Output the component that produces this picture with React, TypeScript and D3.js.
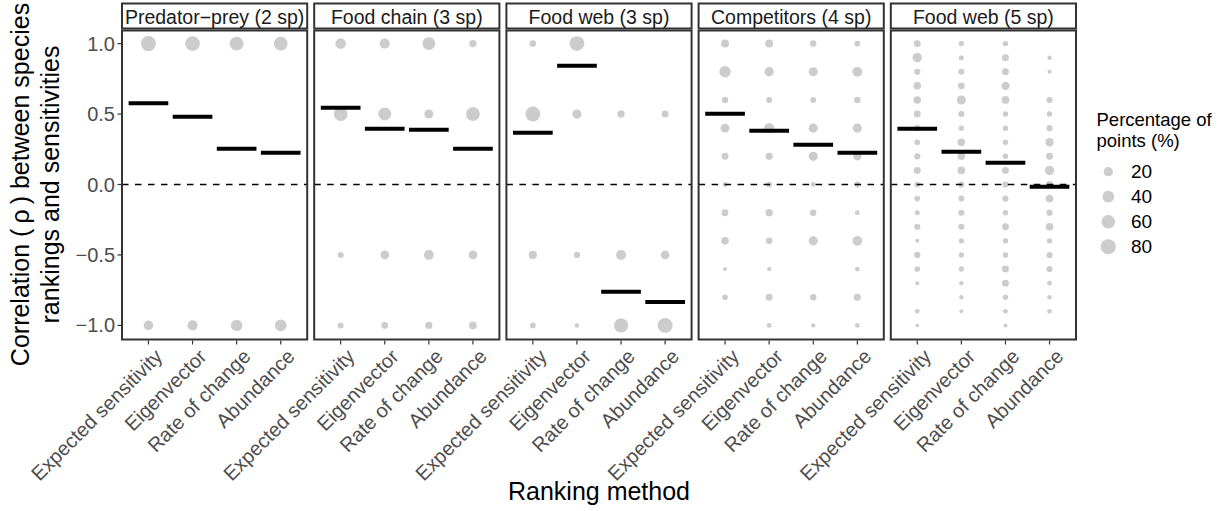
import React from "react";
import * as d3 from "d3";

// ---------- data ----------
const methods = ["Expected sensitivity", "Eigenvector", "Rate of change", "Abundance"];
const panelTitles = [
  "Predator\u2212prey (2 sp)",
  "Food chain (3 sp)",
  "Food web (3 sp)",
  "Competitors (4 sp)",
  "Food web (5 sp)",
];

// possible rank-correlation values per community size
const rhoTwo = [1, -1];
const rhoThree = [1, 0.5, -0.5, -1];
const rhoFour = [1, 0.8, 0.6, 0.4, 0.2, 0, -0.2, -0.4, -0.6, -0.8, -1];
const rhoFive = [1, 0.9, 0.8, 0.7, 0.6, 0.5, 0.4, 0.3, 0.2, 0.1, 0, -0.1, -0.2, -0.3, -0.4, -0.5, -0.6, -0.7, -0.8, -0.9, -1];

// percentage of points at each rho value, one row per ranking method
const pctPredatorPrey = [
  [78, 22],
  [74, 26],
  [63, 37],
  [61, 39],
];
const pctFoodChain3 = [
  [29, 63, 4, 4],
  [25, 52, 17, 6],
  [51, 18, 23, 8],
  [9, 64, 17, 10],
];
const pctFoodWeb3 = [
  [6, 78, 13, 3],
  [75, 19.5, 4.5, 1],
  [0, 9, 25, 66],
  [0, 7, 16, 77],
];
const pctCompetitors4 = [
  [12, 37, 5, 17, 7, 1.3, 7, 10, 0.6, 3, 0],
  [12, 20, 4, 28, 8, 3, 9, 6, 0.7, 7, 1.4],
  [5.4, 18.8, 3.4, 18.8, 18.8, 1.4, 5.4, 18.8, 0, 5.4, 0.7],
  [3.4, 23.4, 5.4, 18.8, 12.8, 3.4, 1.4, 23.4, 1.4, 8, 1.4],
];
const pctFoodWeb5 = [
  [7, 20.4, 4.7, 9.6, 9.6, 7, 4.7, 3, 4.7, 7, 3, 3, 1.7, 4.7, 0.6, 4.7, 3, 0.6, 0, 1.2, 0.5],
  [2.4, 1.8, 4.2, 6.8, 18, 4.2, 2.4, 10, 10, 10, 4.2, 4.2, 4.2, 4.2, 2.4, 2.4, 2.4, 0.9, 0.9, 0.6, 0],
  [2.5, 7, 7, 14, 10.4, 2.5, 2.5, 2.5, 2.5, 7, 4.4, 4.4, 2.5, 7, 2.5, 2.5, 7, 7, 2.5, 1.2, 0.6],
  [0, 0.9, 0.6, 0, 4.4, 2.5, 4.4, 14.3, 7, 19, 7, 10.4, 4.4, 10.4, 2.5, 4.4, 4.4, 1.2, 1.2, 1.2, 0],
];

// mean correlation per method (black bars)
const meanPredatorPrey = [0.576, 0.48, 0.254, 0.226];
const meanFoodChain3 = [0.545, 0.396, 0.389, 0.254];
const meanFoodWeb3 = [0.367, 0.843, -0.762, -0.833];
const meanCompetitors4 = [0.502, 0.382, 0.282, 0.226];
const meanFoodWeb5 = [0.396, 0.233, 0.155, -0.016];

const yTicks = [1, 0.5, 0, -0.5, -1];
const legendBreaks = [20, 40, 60, 80];

const panels = [
  { title: panelTitles[0], rho: rhoTwo, pct: pctPredatorPrey, mean: meanPredatorPrey },
  { title: panelTitles[1], rho: rhoThree, pct: pctFoodChain3, mean: meanFoodChain3 },
  { title: panelTitles[2], rho: rhoThree, pct: pctFoodWeb3, mean: meanFoodWeb3 },
  { title: panelTitles[3], rho: rhoFour, pct: pctCompetitors4, mean: meanCompetitors4 },
  { title: panelTitles[4], rho: rhoFive, pct: pctFoodWeb5, mean: meanFoodWeb5 },
];

// ---------- layout ----------
const W = 1229;
const H = 511;
const FONT = "'Liberation Sans', Arial, Helvetica, sans-serif";
const PANEL_TOP = 29.5;
const PANEL_BOTTOM = 339.5;
const STRIP_TOP = 3.5;
const DOT = "#CCCCCC";
const BORDER = "#333333";
const TICKTEXT = "#4D4D4D";

const facet = d3
  .scaleBand<string>()
  .domain(panelTitles)
  .range([122, 1076])
  .paddingInner(7 / 192.2)
  .paddingOuter(0);

const y = d3.scaleLinear().domain([-1.1, 1.1]).range([PANEL_BOTTOM, PANEL_TOP]);

const xInner = d3
  .scalePoint<string>()
  .domain(methods)
  .range([0, facet.bandwidth()])
  .padding(0.6);

const size = d3.scaleSqrt().domain([0, 84.5]).range([1.8, 7.75]).clamp(true);
const radius = (v: number) => size(Math.max(0, v - 0.5));

export default function App() {
  const pw = facet.bandwidth();
  const step = xInner.step();
  const barW = step * 0.9;

  return (
    <svg
      width={W}
      height={H}
      style={{ position: "absolute", left: 0, top: 0, background: "#fff" }}
      fontFamily={FONT}
    >
      <rect x={0} y={0} width={W} height={H} fill="#fff" />

      {/* panels */}
      {panels.map((p) => {
        const x0 = facet(p.title)!;
        return (
          <g key={p.title} transform={`translate(${x0},0)`}>
            {/* strip */}
            <rect
              x={0}
              y={STRIP_TOP}
              width={pw}
              height={PANEL_TOP - STRIP_TOP - 1}
              fill="#fff"
              stroke={BORDER}
              strokeWidth={2}
            />
            <text
              x={pw / 2}
              y={(STRIP_TOP + PANEL_TOP) / 2}
              textAnchor="middle"
              dominantBaseline="central"
              fontSize={19.5}
              fill="#1A1A1A"
            >
              {p.title}
            </text>

            {/* dots */}
            {methods.map((m, mi) =>
              p.rho.map((r, ri) => {
                const v = p.pct[mi][ri];
                if (!v) return null;
                return (
                  <circle
                    key={`${m}-${ri}`}
                    cx={xInner(m)!}
                    cy={y(r)}
                    r={radius(v)}
                    fill={DOT}
                  />
                );
              })
            )}

            {/* zero line */}
            <line
              x1={0}
              x2={pw}
              y1={y(0)}
              y2={y(0)}
              stroke="#000"
              strokeWidth={1.5}
              strokeDasharray="6.5,6.5"
            />

            {/* mean bars */}
            {methods.map((m, mi) => (
              <line
                key={`mean-${m}`}
                x1={xInner(m)! - barW / 2}
                x2={xInner(m)! + barW / 2}
                y1={y(p.mean[mi])}
                y2={y(p.mean[mi])}
                stroke="#000"
                strokeWidth={4}
              />
            ))}

            {/* panel border */}
            <rect
              x={0}
              y={PANEL_TOP + 1}
              width={pw}
              height={PANEL_BOTTOM - PANEL_TOP - 1}
              fill="none"
              stroke={BORDER}
              strokeWidth={2}
            />

            {/* x ticks */}
            {methods.map((m) => {
              const xx = xInner(m)!;
              return (
                <g key={`xt-${m}`}>
                  <line x1={xx} x2={xx} y1={PANEL_BOTTOM + 1} y2={PANEL_BOTTOM + 5} stroke={BORDER} strokeWidth={1.2} />
                  <text
                    transform={`translate(${xx + 5},${PANEL_BOTTOM + 8}) rotate(-45)`}
                    textAnchor="end"
                    dy="0.72em"
                    fontSize={20}
                    fill={TICKTEXT}
                  >
                    {m}
                  </text>
                </g>
              );
            })}
          </g>
        );
      })}

      {/* y axis */}
      {yTicks.map((t) => (
        <g key={`yt-${t}`}>
          <line x1={117.5} x2={121} y1={y(t)} y2={y(t)} stroke={BORDER} strokeWidth={1.2} />
          <text
            x={115}
            y={y(t)}
            textAnchor="end"
            dominantBaseline="central"
            fontSize={20}
            fill={TICKTEXT}
          >
            {d3.format(".1f")(t).replace("-", "\u2212")}
          </text>
        </g>
      ))}

      {/* y title */}
      <g transform={`translate(0,${(PANEL_TOP + PANEL_BOTTOM) / 2}) rotate(-90)`}>
        <text x={0} y={29} textAnchor="middle" fontSize={25} fill="#000">
          {"Correlation (\u2009\u03C1\u2009) between species"}
        </text>
        <text x={0} y={59} textAnchor="middle" fontSize={25} fill="#000">
          rankings and sensitivities
        </text>
      </g>

      {/* x title */}
      <text x={(122 + 1076) / 2} y={500} textAnchor="middle" fontSize={25} fill="#000">
        Ranking method
      </text>

      {/* legend */}
      <g>
        <text x={1096.5} y={126} fontSize={18.5} fill="#000">
          Percentage of
        </text>
        <text x={1096.5} y={147} fontSize={18.5} fill="#000">
          points (%)
        </text>
        {legendBreaks.map((b, i) => {
          const cy = 171.7 + i * 25;
          return (
            <g key={`lg-${b}`}>
              <circle cx={1108.3} cy={cy} r={radius(b)} fill={DOT} />
              <text x={1131} y={cy} dominantBaseline="central" fontSize={19} fill="#000">
                {b}
              </text>
            </g>
          );
        })}
      </g>
    </svg>
  );
}
